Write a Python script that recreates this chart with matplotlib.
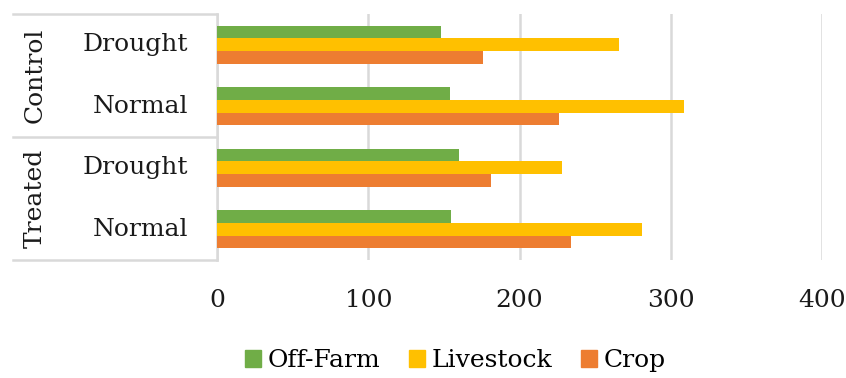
import matplotlib.pyplot as plt
from matplotlib.lines import Line2D
from matplotlib.patches import Patch
import matplotlib.transforms as mtransforms

# categories, top to bottom
groups = ["Control", "Treated"]
conditions = ["Drought", "Normal", "Drought", "Normal"]
off_farm = [148, 154, 160, 155]
livestock = [266, 309, 228, 281]
crop = [176, 226, 181, 234]
x_ticks = [0, 100, 200, 300, 400]

green = "#70AD47"
yellow = "#FFC000"
orange = "#ED7D31"
grid_col = "#D9D9D9"

plt.rcParams["font.family"] = ["DejaVu Serif"]
fs = 18

fig = plt.figure(figsize=(8.46, 3.78), dpi=100)
ax = fig.add_axes([217 / 846, 1 - 260 / 378, 605 / 846, 246 / 378])

y = [3, 2, 1, 0]
h = 0.205
ax.barh([v + h for v in y], off_farm, height=h, color=green, zorder=3)
ax.barh(y, livestock, height=h, color=yellow, zorder=3)
ax.barh([v - h for v in y], crop, height=h, color=orange, zorder=3)

ax.set_xlim(0, 400)
ax.set_ylim(-0.5, 3.5)
ax.set_xticks(x_ticks)
ax.set_xticklabels([str(t) for t in x_ticks], fontsize=fs, color="#1a1a1a")
ax.tick_params(axis="x", length=0, pad=21)
ax.set_yticks([])
ax.grid(axis="x", color=grid_col, linewidth=1.8, zorder=0)
for s in ["top", "right", "bottom"]:
    ax.spines[s].set_visible(False)
ax.spines["left"].set_color(grid_col)
ax.spines["left"].set_linewidth(1.8)

# multi-level category labels
trans = mtransforms.blended_transform_factory(ax.transAxes, ax.transData)
for yy, lab in zip(y, conditions):
    ax.text(-0.048, yy, lab, transform=trans, ha="right", va="center",
            fontsize=fs, color="#1a1a1a")
for i, g in enumerate(groups):
    yc = 2.5 - 2 * i
    ax.text(-0.30, yc, g, transform=trans, ha="center", va="center",
            rotation=90, fontsize=fs, color="#1a1a1a")
for yl in [3.5, 1.5, -0.5]:
    ax.add_line(Line2D([-0.337, 0], [yl, yl], transform=trans, color=grid_col,
                       linewidth=1.8, clip_on=False))

handles = [Patch(color=green), Patch(color=yellow), Patch(color=orange)]
fig.legend(handles, ["Off-Farm", "Livestock", "Crop"], loc="center",
           bbox_to_anchor=(0.538, 0.045), ncol=3, frameon=False, fontsize=fs,
           handlelength=0.65, handleheight=0.65, handletextpad=0.25,
           columnspacing=1.15)

plt.savefig("out.png", dpi=100)
